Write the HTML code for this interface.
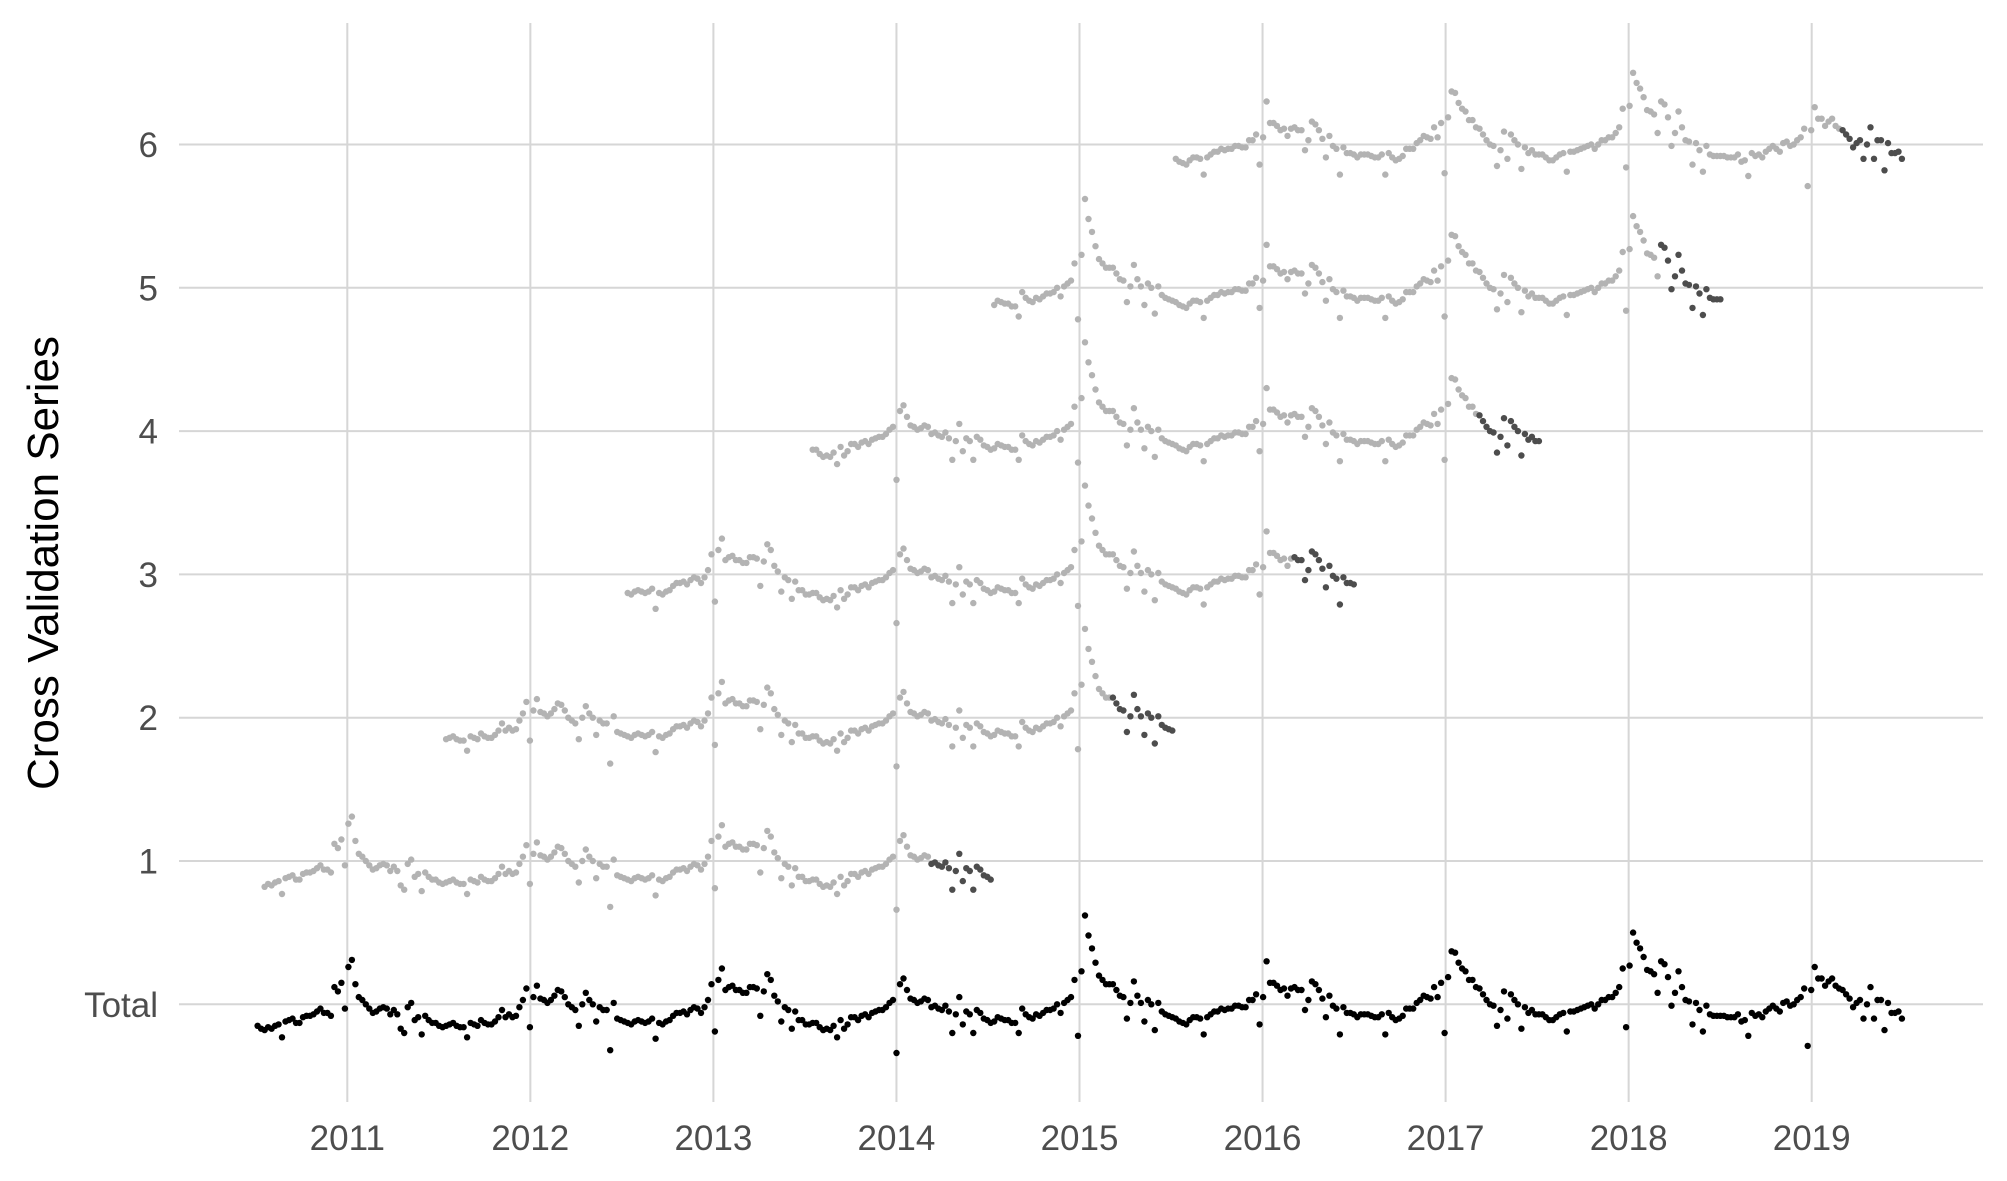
<!DOCTYPE html>
<html><head><meta charset="utf-8"><title>Cross Validation Series</title>
<style>
html,body{margin:0;padding:0;background:#fff;}
svg{display:block;font-family:"Liberation Sans",Arial,sans-serif;}
</style></head>
<body>
<svg id="chart" width="2007" height="1181" viewBox="0 0 2007 1181" xmlns="http://www.w3.org/2000/svg">
<rect x="0" y="0" width="2007" height="1181" fill="#ffffff"/>
<g id="grid"></g>
<g id="points"></g>
<g id="yaxis"></g>
<g id="xaxis"></g>
<text transform="translate(58,563) rotate(-90)" text-anchor="middle" font-size="44" fill="#000">Cross Validation Series</text>
</svg>
<script>
// ---- data ----
const totalValues = [
-0.15,-0.17,-0.18,-0.16,-0.17,-0.15,-0.14,-0.23,-0.12,-0.11,-0.10,-0.13,-0.13,-0.09,-0.08,-0.08,-0.07,-0.05,-0.03,-0.06,-0.06,-0.08,0.12,0.09,0.15,-0.03,0.26,0.31,0.14,0.05,0.03,0.00,-0.03,-0.06,-0.05,-0.03,-0.02,-0.03,-0.07,-0.04,-0.07,-0.17,-0.20,-0.02,0.01,-0.11,-0.09,-0.21,-0.08,-0.11,-0.13,-0.13,-0.15,-0.16,-0.15,-0.14,-0.13,-0.15,-0.16,-0.16,-0.23,-0.13,-0.14,-0.15,-0.11,-0.13,-0.14,-0.14,-0.12,-0.09,-0.04,-0.09,-0.07,-0.09,-0.08,-0.02,0.03,0.11,-0.16,0.05,0.13,0.04,0.03,0.01,0.03,0.06,0.10,0.09,0.05,0.00,-0.02,-0.04,-0.15,0.00,0.08,0.03,0.00,-0.12,-0.02,-0.04,-0.04,-0.32,0.01,-0.10,-0.11,-0.12,-0.13,-0.14,-0.12,-0.11,-0.12,-0.13,-0.12,-0.10,-0.24,-0.13,-0.14,-0.12,-0.11,-0.08,-0.06,-0.06,-0.05,
-0.07,-0.04,-0.02,-0.03,-0.06,-0.02,0.03,0.14,-0.19,0.17,0.25,0.10,0.12,0.13,0.10,0.10,0.08,0.08,0.12,0.12,0.11,-0.08,0.09,0.21,0.17,0.06,0.02,-0.12,-0.02,-0.04,-0.17,-0.05,-0.11,-0.11,-0.14,-0.14,-0.13,-0.13,-0.16,-0.18,-0.17,-0.18,-0.15,-0.23,-0.11,-0.17,-0.14,-0.09,-0.09,-0.11,-0.08,-0.07,-0.09,-0.06,-0.05,-0.04,-0.04,-0.02,0.01,0.03,-0.34,0.14,0.18,0.10,0.04,0.03,0.01,0.02,0.04,0.03,-0.02,-0.01,-0.03,-0.04,-0.01,-0.05,-0.20,-0.07,0.05,-0.14,-0.05,-0.07,-0.20,-0.04,-0.06,-0.10,-0.11,-0.13,-0.12,-0.09,-0.10,-0.11,-0.11,-0.13,-0.13,-0.20,-0.03,-0.07,-0.09,-0.10,-0.07,-0.08,-0.06,-0.04,-0.04,-0.03,0.00,-0.06,0.01,0.03,0.05,0.17,-0.22,0.23,0.62,0.48,0.39,0.29,0.20,0.17,
0.14,0.14,0.14,0.10,0.06,0.05,-0.10,0.01,0.16,0.06,0.01,-0.12,0.03,0.00,-0.18,0.01,-0.05,-0.07,-0.08,-0.09,-0.10,-0.12,-0.13,-0.14,-0.11,-0.09,-0.09,-0.10,-0.21,-0.09,-0.07,-0.05,-0.05,-0.03,-0.04,-0.03,-0.03,-0.01,-0.01,-0.02,-0.02,0.03,0.03,0.07,-0.14,0.05,0.30,0.15,0.15,0.13,0.10,0.11,0.06,0.11,0.12,0.10,0.10,-0.04,0.03,0.16,0.14,0.10,0.04,-0.09,0.06,-0.01,-0.03,-0.21,-0.02,-0.06,-0.06,-0.07,-0.09,-0.07,-0.07,-0.07,-0.08,-0.09,-0.09,-0.07,-0.21,-0.06,-0.09,-0.11,-0.10,-0.08,-0.03,-0.03,-0.03,0.01,0.03,0.06,0.05,0.04,0.12,0.05,0.15,-0.20,0.19,0.37,0.36,0.29,0.25,0.23,0.17,0.17,0.12,0.11,0.07,0.03,0.00,-0.01,-0.15,-0.04,0.09,-0.10,0.07,0.03,0.00,-0.17,
-0.02,-0.06,-0.04,-0.07,-0.07,-0.07,-0.09,-0.11,-0.11,-0.09,-0.07,-0.06,-0.19,-0.05,-0.05,-0.04,-0.03,-0.02,-0.01,0.00,-0.03,0.00,0.03,0.03,0.05,0.05,0.08,0.12,0.25,-0.16,0.27,0.50,0.43,0.39,0.33,0.24,0.23,0.21,0.08,0.30,0.28,0.19,-0.01,0.08,0.23,0.12,0.03,0.02,-0.14,0.01,-0.04,-0.19,-0.01,-0.07,-0.08,-0.08,-0.08,-0.08,-0.09,-0.09,-0.09,-0.07,-0.12,-0.11,-0.22,-0.06,-0.08,-0.07,-0.09,-0.05,-0.03,-0.01,-0.03,-0.05,0.01,0.02,-0.01,0.00,0.03,0.05,0.11,-0.29,0.10,0.26,0.18,0.18,0.13,0.16,0.18,0.13,0.11,0.10,0.07,0.04,-0.02,0.01,0.03,-0.10,0.00,0.12,-0.10,0.03,0.03,-0.18,0.01,-0.06,-0.06,-0.05,-0.10
];
const firstDate = 2010.51;
const lastDate = 2019.493;
const rowNames = ["Total","1","2","3","4","5","6"];
const rowIds = [0,1,2,3,4,5,6];
const windowWeeks = 209;
const testWeeks = 18;
const weeksPerYear = 52.18;
const yearTicks = [2011,2012,2013,2014,2015,2016,2017,2018,2019];

// ---- scales ----
const X0 = 347.3, YEARPX = 183.05;
const Y0 = 1004.3, ROWPX = 143.3;
function xScale(d){ return X0 + (d - 2011) * YEARPX; }
function yScale(v){ return Y0 - v * ROWPX; }
const NS = "http://www.w3.org/2000/svg";
const n = totalValues.length;
function dateAt(i){ return firstDate + i * (lastDate - firstDate) / (n - 1); }

const grid = document.getElementById('grid');
const pts = document.getElementById('points');
const yax = document.getElementById('yaxis');
const xax = document.getElementById('xaxis');

rowIds.forEach((r, k) => {
  const y = yScale(r);
  const ln = document.createElementNS(NS, 'line');
  ln.setAttribute('x1', 179); ln.setAttribute('x2', 1983);
  ln.setAttribute('y1', y); ln.setAttribute('y2', y);
  ln.setAttribute('stroke', '#d6d6d6'); ln.setAttribute('stroke-width', 2);
  
  
  grid.appendChild(ln);
  const t = document.createElementNS(NS, 'text');
  t.setAttribute('x', 158); t.setAttribute('y', y + 12.5);
  t.setAttribute('text-anchor', 'end'); t.setAttribute('font-size', 35);
  t.setAttribute('fill', '#4d4d4d');
  
  
  t.textContent = rowNames[k];
  yax.appendChild(t);
});
yearTicks.forEach(yr => {
  const x = xScale(yr);
  const ln = document.createElementNS(NS, 'line');
  ln.setAttribute('x1', x); ln.setAttribute('x2', x);
  ln.setAttribute('y1', 23); ln.setAttribute('y2', 1102);
  ln.setAttribute('stroke', '#d6d6d6'); ln.setAttribute('stroke-width', 2);
  
  
  grid.appendChild(ln);
  const t = document.createElementNS(NS, 'text');
  t.setAttribute('x', x); t.setAttribute('y', 1150);
  t.setAttribute('text-anchor', 'middle'); t.setAttribute('font-size', 35);
  t.setAttribute('fill', '#4d4d4d');
  
  
  t.textContent = String(yr);
  xax.appendChild(t);
});

function dot(i, row, color, name){
  const c = document.createElementNS(NS, 'circle');
  c.setAttribute('cx', xScale(dateAt(i)).toFixed(1));
  c.setAttribute('cy', yScale(totalValues[i] + row).toFixed(1));
  c.setAttribute('r', 3.2);
  c.setAttribute('fill', color);
  
  
  pts.appendChild(c);
}

for (let r = 1; r <= 6; r++) {
  const start = n - windowWeeks - Math.round(weeksPerYear * (6 - r));
  for (let i = Math.max(0, start); i < start + windowWeeks && i < n; i++) {
    const isTest = i >= start + windowWeeks - testWeeks;
    dot(i, r, isTest ? '#4d4d4d' : '#b3b3b3', isTest ? 'test-point' : 'train-point');
  }
}
for (let i = 0; i < n; i++) dot(i, 0, '#000000', 'total-point');
</script>
</body></html>
